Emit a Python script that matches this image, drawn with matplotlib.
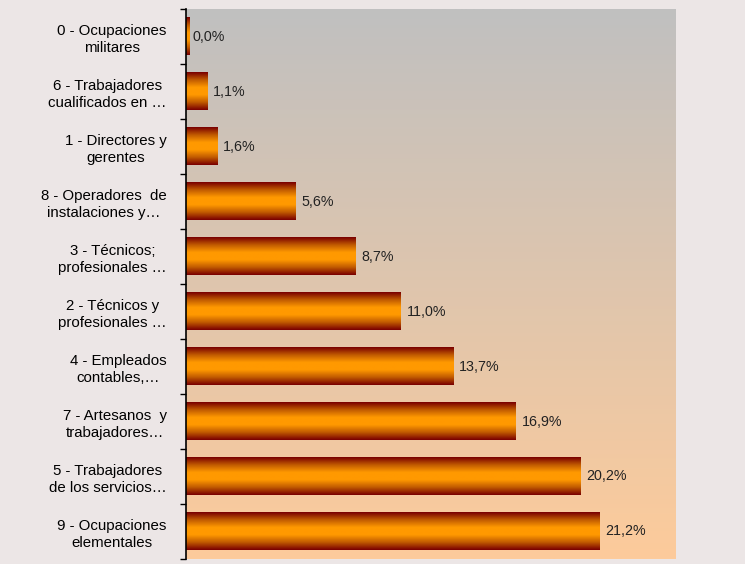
import numpy as np
import matplotlib.pyplot as plt
from matplotlib.colors import LinearSegmentedColormap

plt.rcParams['font.family'] = ['Liberation Sans', 'DejaVu Sans']

# data (percent of total)
categorias = ["0 - Ocupaciones\nmilitares",
              "6 - Trabajadores\ncualificados en …",
              "1 - Directores y\ngerentes",
              "8 - Operadores  de\ninstalaciones y…",
              "3 - Técnicos;\nprofesionales …",
              "2 - Técnicos y\nprofesionales …",
              "4 - Empleados\ncontables,…",
              "7 - Artesanos  y\ntrabajadores…",
              "5 - Trabajadores\nde los servicios…",
              "9 - Ocupaciones\nelementales"]
valores = [0.04, 1.1, 1.6, 5.6, 8.7, 11.0, 13.7, 16.9, 20.2, 21.2]

fig = plt.figure(figsize=(7.45, 5.64), dpi=100, facecolor='#ece6e6')
ax = fig.add_axes([0.2497, 0.0089, 0.6577, 0.975])

# background gradient grey (top) -> peach (bottom)
fondo = LinearSegmentedColormap.from_list('fondo', ['#c0c0c0', '#fdcb9b'])
ax.imshow(np.linspace(0, 1, 256).reshape(-1, 1), cmap=fondo, aspect='auto',
          extent=[0, 1, 0, 1], transform=ax.transAxes, zorder=0)

y = np.arange(len(categorias))
barras = ax.barh(y, valores, height=0.68, color='none', zorder=2)

# vertical gradient on each bar: dark red edges, orange centre
naranja = LinearSegmentedColormap.from_list('naranja', ['#7a0000', '#c05a00', '#ff9900', '#ff9900', '#c05a00', '#7a0000'])
grad = np.linspace(0, 1, 100).reshape(-1, 1)
for b in barras:
    x0, y0 = b.get_x(), b.get_y()
    w, h = b.get_width(), b.get_height()
    im = ax.imshow(grad, cmap=naranja, aspect='auto', extent=[x0, x0 + max(w, 0.2), y0 + h, y0], zorder=2)

for v, yy in zip(valores, y):
    ax.text(v + 0.3, yy, ('%.1f' % v).replace('.', ',') + '%', va='center', ha='left',
            fontsize=10.3, color='#222222', zorder=3)

ax.set_xlim(0, 25.1)
ax.set_ylim(len(categorias) - 0.5, -0.5)
ax.set_yticks(y)
ax.set_yticklabels(categorias, fontsize=10.8, multialignment='center', linespacing=1.3)
ax.set_yticks(np.arange(-0.5, len(categorias)), minor=True)
ax.tick_params(axis='y', which='major', length=0, pad=14)
ax.tick_params(axis='y', which='minor', length=4, width=1, direction='out')
ax.set_xticks([])
for s in ['top', 'right', 'bottom']:
    ax.spines[s].set_visible(False)
ax.spines['left'].set_linewidth(1.2)
ax.set_facecolor('none')

fig.savefig('out.png', dpi=100, facecolor=fig.get_facecolor())
